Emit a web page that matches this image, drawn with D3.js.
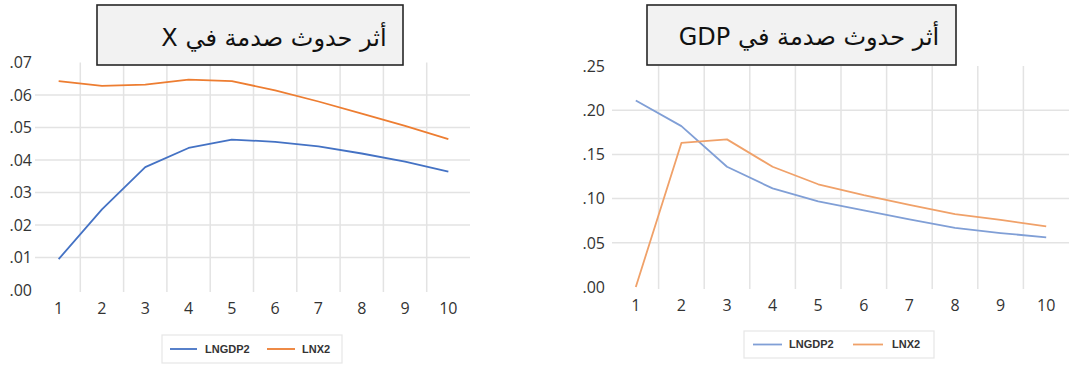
<!DOCTYPE html>
<html>
<head>
<meta charset="utf-8">
<script src="https://cdn.jsdelivr.net/npm/d3@7"></script>
<style>
  html, body { margin: 0; padding: 0; background: #fff; }
  svg { display: block; }
</style>
</head>
<body>
<svg id="chart" width="1076" height="365"></svg>
<script>
// Impulse-response periods
const periods = [1, 2, 3, 4, 5, 6, 7, 8, 9, 10];

// Response to a shock in X
const xShockGDP = [0.0095, 0.0248, 0.0378, 0.0437, 0.0463, 0.0456, 0.0442, 0.0420, 0.0395, 0.0364];
const xShockX   = [0.0643, 0.0628, 0.0632, 0.0647, 0.0643, 0.0614, 0.0580, 0.0543, 0.0505, 0.0464];

// Response to a shock in GDP
const gdpShockGDP = [0.211, 0.182, 0.136, 0.1115, 0.0968, 0.0868, 0.0765, 0.0668, 0.0610, 0.0562];
const gdpShockX   = [0.000, 0.163, 0.167, 0.1360, 0.1162, 0.1040, 0.0930, 0.0825, 0.0760, 0.0685];

const xTicks = [".00", ".01", ".02", ".03", ".04", ".05", ".06", ".07"];
const gdpTicks = [".00", ".05", ".10", ".15", ".20", ".25"];
const seriesNames = ["LNGDP2", "LNX2"];

const svg = d3.select("#chart");

function drawPanel(cfg) {
  const g = svg.append("g");
  const x = d3.scalePoint().domain(periods).range([cfg.left, cfg.right]).padding(0.5);
  const y = d3.scaleLinear().domain([0, cfg.max]).range([cfg.bottom, cfg.top]);
  const step = x.step();

  // horizontal gridlines (interior ticks)
  const tickVals = cfg.tickLabels.map(t => +("0" + t));
  g.append("g").selectAll("line")
    .data(tickVals.slice(1, -1))
    .join("line")
    .attr("x1", cfg.gridLeft).attr("x2", cfg.right)
    .attr("y1", d => y(d)).attr("y2", d => y(d))
    .attr("stroke", "#e3e3e3").attr("stroke-width", 1.5);

  // vertical gridlines between periods
  g.append("g").selectAll("line")
    .data(periods.slice(0, -1))
    .join("line")
    .attr("x1", d => x(d) + step / 2).attr("x2", d => x(d) + step / 2)
    .attr("y1", cfg.top).attr("y2", cfg.bottom + 2)
    .attr("stroke", "#e3e3e3").attr("stroke-width", 1.5);

  // y-axis labels
  g.append("g").selectAll("text")
    .data(cfg.tickLabels)
    .join("text")
    .attr("x", cfg.labelRight)
    .attr("y", (d, i) => y(tickVals[i]))
    .attr("dy", "0.36em")
    .attr("text-anchor", "end")
    .attr("font-family", "Open Sans, Liberation Sans, sans-serif")
    .attr("font-size", 16)
    .attr("fill", "#333")
    .text(d => d);

  // x-axis labels
  g.append("g").selectAll("text")
    .data(periods)
    .join("text")
    .attr("x", d => x(d))
    .attr("y", cfg.xLabelY)
    .attr("text-anchor", "middle")
    .attr("font-family", "Open Sans, Liberation Sans, sans-serif")
    .attr("font-size", 16)
    .attr("fill", "#333")
    .text(d => d);

  // response lines
  const line = d3.line()
    .x((d, i) => x(periods[i]))
    .y(d => y(d));
  [cfg.gdp, cfg.xs].forEach((vals, k) => {
    g.append("path")
      .datum(vals)
      .attr("d", line)
      .attr("fill", "none")
      .attr("stroke", cfg.colors[k])
      .attr("stroke-width", 1.8)
      .attr("stroke-linejoin", "round");
  });

  // title box
  g.append("rect")
    .attr("x", cfg.title.x).attr("y", cfg.title.y)
    .attr("width", cfg.title.w).attr("height", cfg.title.h)
    .attr("fill", "#f2f2f2")
    .attr("stroke", "#262626")
    .attr("stroke-width", 1.6);
  g.append("text")
    .attr("x", cfg.title.tx)
    .attr("y", cfg.title.ty)
    .attr("text-anchor", "middle")
    .attr("direction", "rtl")
    .attr("font-family", "DejaVu Sans, Liberation Sans, sans-serif")
    .attr("font-size", 24)
    .attr("fill", "#111")
    .text(cfg.title.text);

  // legend
  const lg = cfg.legend;
  g.append("rect")
    .attr("x", lg.x).attr("y", lg.y)
    .attr("width", lg.w).attr("height", lg.h)
    .attr("fill", "#fff")
    .attr("stroke", "#e6e6e6")
    .attr("stroke-width", 1.2);
  seriesNames.forEach((name, k) => {
    const item = lg.items[k];
    g.append("line")
      .attr("x1", item.x1).attr("x2", item.x2)
      .attr("y1", lg.y + lg.h / 2).attr("y2", lg.y + lg.h / 2)
      .attr("stroke", cfg.colors[k])
      .attr("stroke-width", 1.8);
    g.append("text")
      .attr("x", item.tx)
      .attr("y", lg.y + lg.h / 2)
      .attr("dy", "0.36em")
      .attr("font-family", "Liberation Sans Narrow, Liberation Sans, sans-serif")
      .attr("font-stretch", "condensed")
      .attr("font-weight", "bold")
      .attr("font-size", 11)
      .attr("fill", "#333")
      .text(name);
  });
}

drawPanel({
  left: 37, right: 470, gridLeft: 35, top: 62.5, bottom: 290, max: 0.07,
  tickLabels: xTicks, labelRight: 32, xLabelY: 314,
  gdp: xShockGDP, xs: xShockX,
  colors: ["#4472c4", "#ed7d31"],
  title: { x: 97, y: 5, w: 306, h: 60, tx: 274, ty: 46, text: "أثر حدوث صدمة في X" },
  legend: { x: 162, y: 335, w: 180, h: 28,
    items: [{ x1: 170, x2: 197, tx: 205 }, { x1: 267, x2: 295, tx: 302 }] }
});

drawPanel({
  left: 613, right: 1069, gridLeft: 612, top: 66, bottom: 287, max: 0.25,
  tickLabels: gdpTicks, labelRight: 605, xLabelY: 311,
  gdp: gdpShockGDP, xs: gdpShockX,
  colors: ["#809fd6", "#f0a169"],
  title: { x: 647, y: 5, w: 309, h: 60, tx: 809, ty: 45, text: "أثر حدوث صدمة في GDP" },
  legend: { x: 744, y: 331, w: 190, h: 27,
    items: [{ x1: 753, x2: 782, tx: 789 }, { x1: 853, x2: 883, tx: 892 }] }
});
</script>
</body>
</html>
